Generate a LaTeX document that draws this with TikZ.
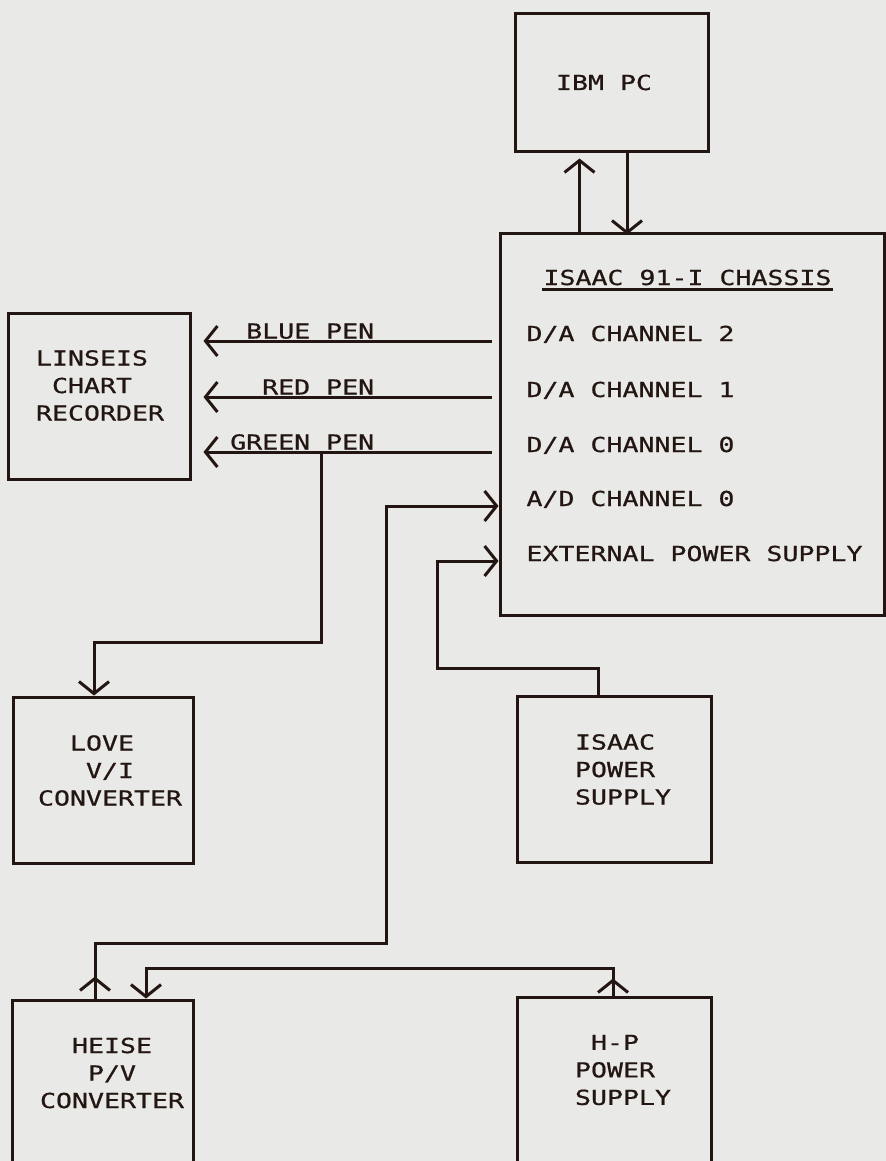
\documentclass[tikz,border=0pt]{standalone}
\usepackage{fontspec}
\usepackage{tikz}
\usetikzlibrary{arrows.meta,decorations.markings}
\newfontfamily\plotterfont[FakeStretch=1.29,FakeBold=0.8]{DejaVu Sans Mono}
\definecolor{paper}{HTML}{E9E9E7}
\definecolor{ink}{HTML}{231612}

\begin{document}
\begin{tikzpicture}[x=0.5pt,y=-0.5pt,ink,line width=1.5pt,
  >={Straight Barb[length=6pt,width=15pt]},
  every node/.style={font=\plotterfont\fontsize{10.3pt}{13.75pt}\selectfont,text=ink,inner sep=0pt},
  unit/.style={draw,minimum height=83pt},
  lbl/.style={align=left},
  chan/.style={anchor=base west},
  penlbl/.style={anchor=base east,pos=0.4,yshift=1.25pt},
  tipat/.style={postaction={decorate},decoration={markings,mark=at position #1 with {\arrow{>}}}}]
  \fill[paper] (0,0) rectangle (886,1161);
  \clip (0,0) rectangle (886,1161);

  \node[unit,minimum width=96.5pt,minimum height=68.5pt] (ibm) at (611.5,82.5) {};
  \node[unit,minimum width=192pt,minimum height=191pt] (chassis) at (692,424) {};
  \node[unit,minimum width=91pt] (chart) at (99,396) {};
  \node[unit,minimum width=90pt] (love) at (103,780) {};
  \node[unit,minimum width=97pt] (isaacps) at (614,779) {};
  \node[unit,minimum width=90.5pt] (heise) at (102.5,1083) {};
  \node[unit,minimum width=97pt] (hpps) at (614,1080) {};

  \node (ibmlbl) at (604,82.5) {IBM PC};
  \node[lbl] (chartlbl) at (100,385.5) {LINSEIS\\~CHART\\RECORDER};
  \node[lbl] (lovelbl) at (110,770.5) {~~LOVE\\~~~V/I\\CONVERTER};
  \node[lbl] (isaacpslbl) at (623,769.5) {ISAAC\\POWER\\SUPPLY};
  \node[lbl] (heiselbl) at (112,1073) {~~HEISE\\~~~P/V\\CONVERTER};
  \node[lbl] (hppslbl) at (623,1070) {~H-P\\POWER\\SUPPLY};

  \node[chan] (title) at (542,285) {ISAAC 91-I CHASSIS};
  \draw[line width=1.2pt] ([yshift=-2.25pt]title.base west) -- ([yshift=-2.25pt]title.base east);
  \node[chan] (da2) at (525,341) {D/A CHANNEL 2};
  \node[chan] (da1) at (525,397) {D/A CHANNEL 1};
  \node[chan] (da0) at (525,452) {D/A CHANNEL 0};
  \node[chan] (ad0) at (525,506) {A/D CHANNEL 0};
  \node[chan] (extps) at (525,561) {EXTERNAL POWER SUPPLY};

  \draw[<-,shorten <=3pt] ([xshift=-16pt]ibm.south) -- ++(0,82);
  \draw[->] ([xshift=7.75pt]ibm.south) -- ++(0,82);

  \draw[->,shorten <=3.5pt,shorten >=6pt] (da2.base -| chassis.west) -- node[penlbl] (bluelbl) {BLUE PEN} (da2.base -| chart.east);
  \draw[->,shorten <=3.5pt,shorten >=6pt] (da1.base -| chassis.west) -- node[penlbl] (redlbl) {RED PEN} (da1.base -| chart.east);
  \draw[->,shorten <=3.5pt,shorten >=6pt] (da0.base -| chassis.west) -- node[penlbl] (greenlbl) {GREEN PEN} (da0.base -| chart.east);

  \coordinate (gtap) at (321,452);
  \draw[->] (gtap) -- ++(0,190) -| ([xshift=-4.5pt]love.north);

  \draw[->,tipat=11pt] ([xshift=-3.75pt]heise.north) |- (386,943) |- (ad0.base -| chassis.west);
  \draw[->] ([xshift=-8pt]isaacps.north) |- (437,668) |- (extps.base -| chassis.west);
  \draw[->,tipat=8.5pt] ([xshift=-0.5pt]hpps.north) -- ++(0,-27) -| ([xshift=21.75pt]heise.north);
\end{tikzpicture}
\end{document}
